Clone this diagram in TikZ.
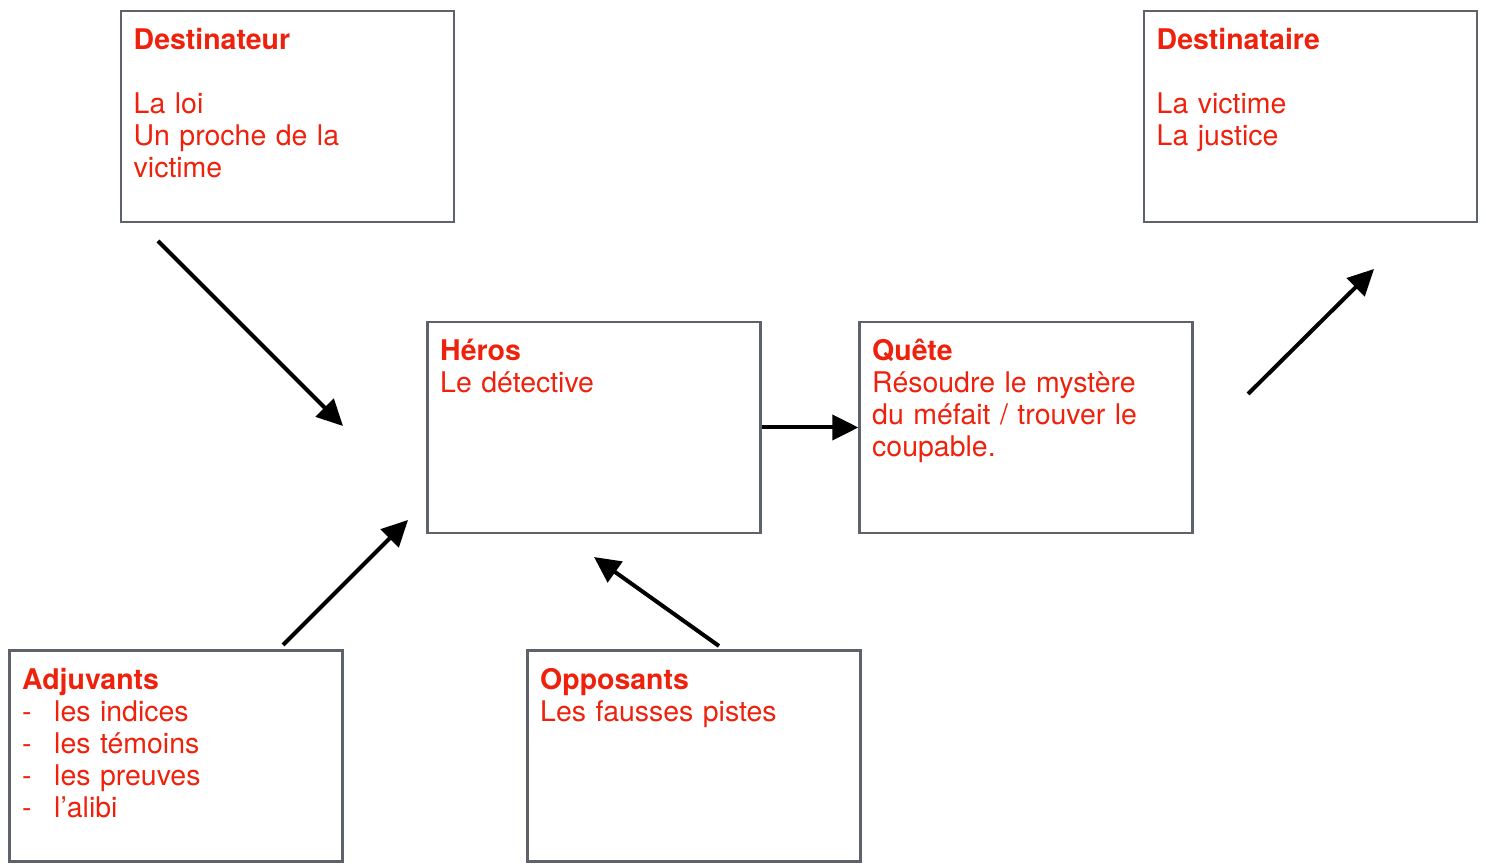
\documentclass[tikz,border=0pt]{standalone}
\usepackage{fontspec}
\setmainfont{TeX Gyre Heros}
\usetikzlibrary{arrows.meta,calc}
\definecolor{rouge}{RGB}{238,34,12}
\definecolor{bord}{RGB}{94,99,107}
\newcommand{\tiret}{\makebox[0.64cm][l]{-}}

\begin{document}
\begin{tikzpicture}[
  cadre/.style={draw=bord, line width=0.045cm, minimum width=6.66cm, minimum height=4.22cm, inner sep=0pt},
  texte/.style={anchor=base west, text=rouge, text width=6.2cm, align=left, inner sep=0pt,
    font=\fontsize{16.2}{18.2}\selectfont},
  fleche/.style={line width=0.08cm, -{Triangle[length=0.52cm,width=0.5cm]}}
]
	%%%%% CADRES %%%%%
	\useasboundingbox (0,0) rectangle (29.72,17.28);
	
	\node[cadre] (destinateur) at (5.75, 14.95) {};
	\node[cadre] (destinataire) at (26.21, 14.95) {};
	\node[cadre] (heros) at (11.88, 8.73) {};
	\node[cadre] (quete) at (20.52, 8.73) {};
	\node[cadre] (adjuvants) at (3.52, 2.16) {};
	\node[cadre] (opposants) at (13.88, 2.16) {};
	
	%%%%% TEXTES %%%%%
	\node[texte] (t-destinateur) at ($(destinateur.north west)+(0.27,-0.8)$)
		{\textbf{Destinateur}\\ \mbox{}\\ La loi\\ Un proche de la\\ victime};
	\node[texte] (t-destinataire) at ($(destinataire.north west)+(0.27,-0.8)$)
		{\textbf{Destinataire}\\ \mbox{}\\ La victime\\ La justice};
	\node[texte] (t-heros) at ($(heros.north west)+(0.27,-0.8)$)
		{\textbf{Héros}\\ Le détective};
	\node[texte] (t-quete) at ($(quete.north west)+(0.27,-0.8)$)
		{\textbf{Quête}\\ Résoudre le mystère\\ du méfait / trouver le\\ coupable.};
	\node[texte] (t-adjuvants) at ($(adjuvants.north west)+(0.27,-0.8)$)
		{\textbf{Adjuvants}\\ \tiret les indices\\ \tiret les témoins\\ \tiret les preuves\\ \tiret l’alibi};
	\node[texte] (t-opposants) at ($(opposants.north west)+(0.27,-0.8)$)
		{\textbf{Opposants}\\ Les fausses pistes};
	
	%%%%% FLECHES %%%%%
	\coordinate (dep-destinateur) at (3.16, 12.46);
	\coordinate (vers-heros-a) at (6.86, 8.76);
	\coordinate (dep-adjuvants) at (5.66, 4.38);
	\coordinate (vers-heros-b) at (8.16, 6.88);
	\coordinate (dep-opposants) at (14.38, 4.36);
	\coordinate (vers-heros-c) at (11.88, 6.14);
	\coordinate (dep-quete) at (24.96, 9.40);
	\coordinate (vers-destinataire) at (27.48, 11.90);
	
	\draw[fleche] (dep-destinateur) -- (vers-heros-a);
	\draw[fleche] (dep-adjuvants) -- (vers-heros-b);
	\draw[fleche] (dep-opposants) -- (vers-heros-c);
	\draw[fleche] (heros.east) -- (quete.west);
	\draw[fleche] (dep-quete) -- (vers-destinataire);
	
\end{tikzpicture}
\end{document}
